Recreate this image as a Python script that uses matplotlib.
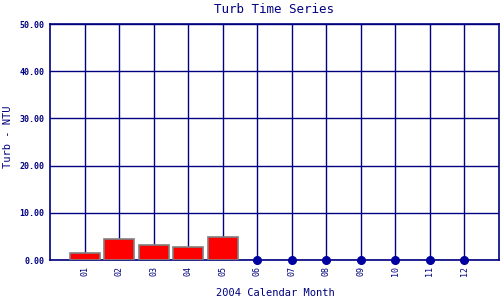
import numpy as np
import matplotlib
matplotlib.use("Agg")
import matplotlib.pyplot as plt

months = ["01", "02", "03", "04", "05", "06", "07", "08", "09", "10", "11", "12"]
turb = [1.4, 4.4, 3.1, 2.7, 4.8, 0, 0, 0, 0, 0, 0, 0]
y_ticks = [0, 10, 20, 30, 40, 50]

navy = "#000080"
plt.rcParams["font.family"] = ["DejaVu Sans Mono"]

fig = plt.figure(figsize=(5, 3), dpi=100)
ax = fig.add_axes([0.1, 0.133, 0.898, 0.787])

x = np.arange(1, len(months) + 1)
vals = np.array(turb)
has = vals > 0
ax.bar(x[has], vals[has], width=0.87, color="red", edgecolor="#808080",
       linewidth=1.2, zorder=3)
ax.plot(x[~has], vals[~has], "o", color="#0000a0", markersize=5.5,
        zorder=4, clip_on=False)

ax.set_xlim(0, 13)
ax.set_ylim(0, 50)
ax.set_xticks(x)
ax.set_xticklabels(months, rotation=90, fontsize=6, color=navy)
ax.set_yticks(y_ticks)
ax.set_yticklabels([f"{v:.2f}" for v in y_ticks], fontsize=6,
                   color=navy, fontweight="bold")
ax.tick_params(length=0, pad=4)
ax.grid(True, color=navy, linewidth=1, zorder=1)
for s in ax.spines.values():
    s.set_color(navy)
    s.set_linewidth(1.2)

ax.set_title("Turb Time Series", fontsize=9, color=navy, pad=8)
fig.text(0.55, 0.022, "2004 Calendar Month", fontsize=7.5, color=navy,
         ha="center", va="center")
fig.text(0.016, 0.545, "Turb - NTU", fontsize=7.5, color=navy,
         ha="center", va="center", rotation=90)

fig.savefig("out.png", dpi=100)
